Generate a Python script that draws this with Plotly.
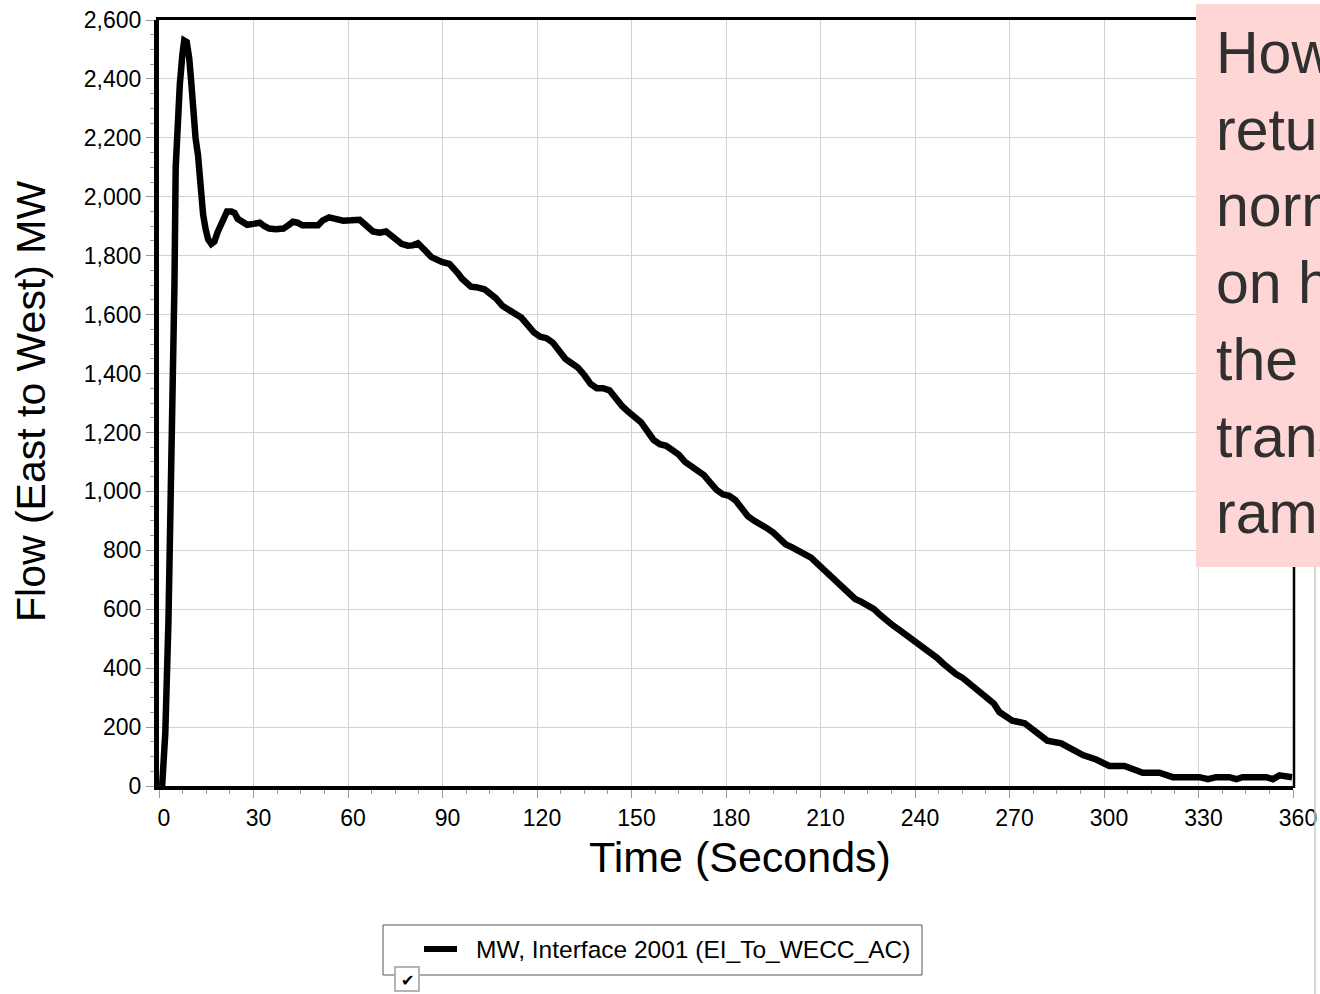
import plotly.graph_objects as go

# Interface flow after the event
time_s = [1.0, 2.0, 3.0, 3.6, 4.3, 4.9, 5.3, 5.8, 6.6, 7.4, 8.0, 8.8, 9.6, 10.3, 10.8,
          11.6, 12.4, 12.8, 13.5, 14.0, 14.8, 15.6, 16.6, 17.6, 18.6, 19.6, 20.6, 21.6,
          23.0, 24.0, 25.0, 26.5, 28.0, 30.0, 32.0, 33.5, 35.0, 37.0, 39.5, 41.0, 42.5,
          44.0, 45.5, 48.0, 50.5, 52.0, 54.0, 56.0, 58.5, 61.0, 63.7, 65.5, 67.9, 70.0,
          72.1, 73.5, 75.3, 77.0, 79.0, 80.5, 82.2, 83.5, 84.8, 86.5, 88.0, 90.0, 92.2,
          93.5, 94.9, 96.2, 97.5, 99.0, 100.7, 103.3, 105.0, 107.0, 109.0, 111.0, 113.0,
          115.0, 117.0, 119.0, 121.0, 123.0, 125.0, 127.0, 129.0, 131.0, 133.0, 135.0,
          137.0, 139.0, 141.0, 143.0, 145.0, 147.0, 149.0, 151.0, 153.0, 155.0, 157.0,
          159.0, 161.0, 163.0, 165.0, 167.0, 169.0, 171.0, 173.0, 175.0, 177.0, 179.0,
          181.0, 183.0, 185.0, 187.0, 189.0, 191.0, 193.0, 195.0, 197.0, 199.0, 201.0,
          203.0, 205.0, 207.0, 209.0, 211.0, 213.0, 215.0, 217.0, 219.0, 221.0, 223.0,
          225.0, 227.0, 229.0, 231.0, 233.0, 235.0, 237.0, 239.0, 241.0, 243.0, 245.0,
          247.0, 249.0, 251.0, 253.0, 255.0, 257.0, 259.0, 261.0, 263.0, 265.0, 266.8,
          270.9, 274.8, 278.5, 282.0, 286.4, 289.6, 293.3, 297.5, 301.7, 306.5, 312.3,
          317.6, 321.8, 330.3, 333.0, 335.6, 339.8, 342.0, 344.0, 351.5, 353.6, 355.7,
          359.7]
flow_mw = [0, 180, 560, 870, 1330, 1700, 2100, 2250, 2380, 2480, 2530, 2525, 2470, 2380,
           2300, 2200, 2140, 2070, 2000, 1940, 1890, 1855, 1840, 1848, 1880, 1905, 1935,
           1950, 1950, 1945, 1925, 1912, 1905, 1908, 1912, 1900, 1892, 1890, 1892, 1903,
           1915, 1912, 1903, 1903, 1903, 1920, 1930, 1925, 1919, 1920, 1922, 1905, 1882,
           1878, 1882, 1870, 1853, 1840, 1834, 1835, 1842, 1830, 1814, 1795, 1785, 1778,
           1772, 1760, 1740, 1722, 1706, 1695, 1693, 1686, 1672, 1655, 1630, 1615, 1605,
           1590, 1565, 1540, 1525, 1520, 1505, 1475, 1450, 1435, 1420, 1395, 1365, 1350,
           1350, 1343, 1315, 1290, 1270, 1255, 1235, 1205, 1175, 1160, 1155, 1140, 1125,
           1100, 1085, 1070, 1055, 1030, 1005, 990, 985, 970, 940, 915, 900, 890, 875, 860,
           840, 820, 810, 800, 790, 775, 755, 735, 715, 695, 675, 655, 635, 625, 615, 600,
           580, 560, 545, 530, 515, 495, 480, 470, 455, 435, 415, 395, 380, 368, 350, 330,
           312, 295, 280, 251, 222, 213, 179, 154, 145, 125, 105, 90, 68, 68, 45, 45, 30,
           30, 23, 30, 30, 23, 30, 30, 23, 36, 30]

series_name = "MW, Interface 2001 (EI_To_WECC_AC)"
note_lines = ["However, flow", "returns to", "normal based", "on how fast", "the",
              "transfer", "ramps."]

FONT = "Liberation Sans, Arial, sans-serif"

# plot area in pixels: x 159..1293, y 20..786
L, R, T, B = 159, 1293, 20, 786
def px(x):
    return (x - L) / (R - L)
def py(y):
    return (B - y) / (B - T)

fig = go.Figure()
fig.add_trace(go.Scatter(x=time_s, y=flow_mw, mode="lines", name=series_name,
                         line=dict(color="black", width=6.5), showlegend=False))

# automargin off, otherwise the "360" label squeezes the plot area
axis_common = dict(showgrid=True, gridcolor="#d2d2d2", gridwidth=1, zeroline=False,
                   showline=True, linecolor="black", ticks="outside", tickcolor="#9a9a9a",
                   ticklen=8, tickwidth=1, automargin=False,
                   tickfont=dict(family=FONT, size=23, color="black"))

fig.update_xaxes(range=[0, 360], tick0=0, dtick=30, linewidth=4, ticklabelshift=5,
                 minor=dict(dtick=7.5, ticks="outside", ticklen=4, tickcolor="#9a9a9a",
                            showgrid=False),
                 **axis_common)
fig.update_yaxes(range=[0, 2600], tick0=0, dtick=200, tickformat=",", linewidth=5,
                 minor=dict(dtick=50, ticks="outside", ticklen=4, tickcolor="#9a9a9a",
                            showgrid=False),
                 **axis_common)

shapes = [
    # top and right frame
    dict(type="line", xref="paper", yref="paper", x0=px(156), x1=px(1200), y0=py(18.5), y1=py(18.5),
         line=dict(color="black", width=3)),
    dict(type="line", xref="paper", yref="paper", x0=px(1294), x1=px(1294), y0=py(18), y1=py(788),
         line=dict(color="black", width=2.5)),
    # pink note box (runs off the right edge)
    dict(type="rect", xref="paper", yref="paper", x0=px(1196), x1=px(1320), y0=py(4), y1=py(567),
         fillcolor="#FFD6D6", line=dict(width=0)),
    # far right gray line
    dict(type="line", xref="paper", yref="paper", x0=px(1315), x1=px(1315), y0=py(567), y1=py(994),
         line=dict(color="#c8c8c8", width=1.5)),
    # legend box
    dict(type="rect", xref="paper", yref="paper", x0=px(383), x1=px(922), y0=py(925), y1=py(975),
         fillcolor="white", line=dict(color="#555555", width=1)),
    dict(type="line", xref="paper", yref="paper", x0=px(424), x1=px(457), y0=py(949), y1=py(949),
         line=dict(color="black", width=6)),
    # checkbox
    dict(type="rect", xref="paper", yref="paper", x0=px(395), x1=px(419), y0=py(967), y1=py(991),
         fillcolor="white", line=dict(color="#b4b4b4", width=2)),
]

annotations = [
    dict(text="Time (Seconds)", xref="paper", yref="paper", x=px(740), y=py(857),
         xanchor="center", yanchor="middle", showarrow=False,
         font=dict(family=FONT, size=43, color="black")),
    dict(text="Flow (East to West) MW", xref="paper", yref="paper", x=px(31), y=py(402),
         xanchor="center", yanchor="middle", textangle=-90, showarrow=False,
         font=dict(family=FONT, size=41, color="black")),
    dict(text=series_name, xref="paper", yref="paper", x=px(474), y=py(949),
         xanchor="left", yanchor="middle", showarrow=False,
         font=dict(family=FONT, size=24.5, color="black")),
    dict(text="✔", xref="paper", yref="paper", x=px(407), y=py(980),
         xanchor="center", yanchor="middle", showarrow=False,
         font=dict(family="DejaVu Sans", size=16, color="black")),
    dict(text="<br>".join(note_lines), xref="paper", yref="paper", x=px(1214), y=py(18),
         xanchor="left", yanchor="top", align="left", showarrow=False,
         font=dict(family=FONT, size=59, color="#303030")),
]

fig.update_layout(width=1320, height=994,
                  margin=dict(l=L, r=1320 - R, t=T, b=994 - B),
                  paper_bgcolor="white", plot_bgcolor="white",
                  shapes=shapes, annotations=annotations)

# no default page margin, so the figure sits at the top-left corner
fig.write_html("out.html", config={"displayModeBar": False},
               post_script="document.body.style.margin='0';")
